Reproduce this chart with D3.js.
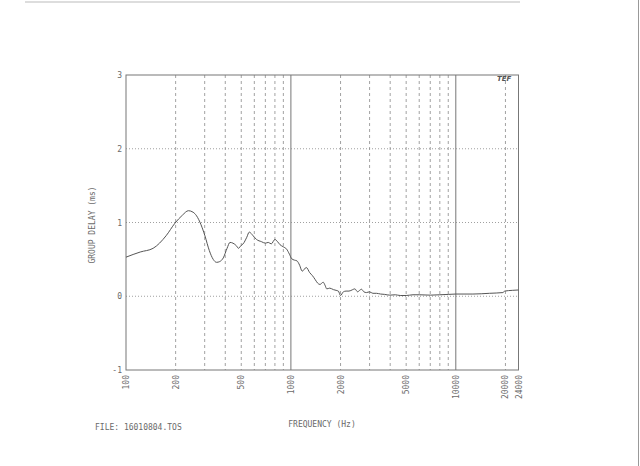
<!DOCTYPE html>
<html><head><meta charset="utf-8">
<script src="https://cdn.jsdelivr.net/npm/d3@7"></script>
<style>html,body{margin:0;padding:0;background:#fff;}svg{display:block;}</style>
</head><body>
<svg id="c" width="640" height="466"></svg>
<script>
const freqs = [100,122,146,175,198,220,239,255,268,285,301,320,338,354,370,389,410,427,445,469,480,500,513,540,559,575,590,619,663,700,729,760,800,830,858,900,941,980,1010,1050,1088,1130,1170,1240,1300,1350,1400,1450,1500,1570,1610,1650,1720,1810,1880,1940,2000,2080,2160,2250,2370,2440,2540,2610,2680,2770,2870,3000,3140,3300,3500,3700,3980,4300,4600,5000,5500,6000,7000,8000,9000,10000,12700,16000,19300,19800,22000,24000];
const delays = [0.53,0.60,0.65,0.82,0.99,1.10,1.16,1.14,1.09,0.97,0.82,0.62,0.50,0.46,0.47,0.52,0.65,0.73,0.72,0.68,0.65,0.69,0.71,0.80,0.87,0.85,0.82,0.77,0.74,0.72,0.73,0.71,0.77,0.74,0.70,0.67,0.64,0.57,0.51,0.49,0.48,0.42,0.34,0.39,0.32,0.28,0.23,0.18,0.16,0.19,0.15,0.10,0.11,0.09,0.08,0.07,0.01,0.06,0.07,0.07,0.09,0.10,0.06,0.08,0.095,0.06,0.05,0.06,0.04,0.04,0.03,0.025,0.015,0.02,0.01,0.01,0.02,0.02,0.015,0.02,0.025,0.03,0.03,0.04,0.05,0.07,0.08,0.085];
const xTickLabels = [100,200,500,1000,2000,5000,10000,20000,24000];
const yTickLabels = [-1,0,1,2,3];
const gridFreqs = [200,300,400,500,600,700,800,900,2000,3000,4000,5000,6000,7000,8000,9000,20000];
const solidFreqs = [1000,10000];

const svg = d3.select('#c');
svg.append('rect').attr('width',640).attr('height',466).attr('fill','#fff');
const L=126,R=518.5,T=75,B=370;
const x = d3.scaleLog().domain([100,24000]).range([L,R]);
const y = d3.scaleLinear().domain([-1,3]).range([B,T]);
const gray='#6a6a6a';
const font='"DejaVu Sans Mono", monospace';

// scan artifacts: page edges
svg.append('line').attr('x1',25).attr('x2',520).attr('y1',2).attr('y2',2).attr('stroke','#bbb').attr('stroke-width',1);
svg.append('line').attr('x1',638.5).attr('x2',638.5).attr('y1',0).attr('y2',466).attr('stroke','#999').attr('stroke-width',1);

// grid verticals
svg.append('g').selectAll('line').data(gridFreqs).join('line')
  .attr('x1',d=>x(d)).attr('x2',d=>x(d)).attr('y1',T).attr('y2',B)
  .attr('stroke','#8a8a8a').attr('stroke-width',0.8).attr('stroke-dasharray','3,3');
svg.append('g').selectAll('line').data(solidFreqs).join('line')
  .attr('x1',d=>x(d)).attr('x2',d=>x(d)).attr('y1',T).attr('y2',B)
  .attr('stroke','#777').attr('stroke-width',1);
// horizontal dotted
svg.append('g').selectAll('line').data([0,1,2]).join('line')
  .attr('x1',L).attr('x2',R).attr('y1',d=>y(d)).attr('y2',d=>y(d))
  .attr('stroke','#888').attr('stroke-width',0.8).attr('stroke-dasharray','1,2');
// frame
svg.append('rect').attr('x',L).attr('y',T).attr('width',R-L).attr('height',B-T)
  .attr('fill','none').attr('stroke','#777').attr('stroke-width',1);

// y tick labels
svg.append('g').selectAll('text').data(yTickLabels).join('text')
  .attr('x',L-4).attr('y',d=>y(d)+3).attr('text-anchor','end')
  .attr('font-family',font).attr('font-size',8).attr('fill',gray).text(d=>d);
// x tick labels rotated
svg.append('g').selectAll('text').data(xTickLabels).join('text')
  .attr('transform',d=>`translate(${x(d)+3},${B+5}) rotate(-90)`)
  .attr('text-anchor','end')
  .attr('font-family',font).attr('font-size',8).attr('fill',gray).text(d=>d);

// titles
svg.append('text').attr('transform','translate(95,225) rotate(-90)').attr('text-anchor','middle')
  .attr('font-family',font).attr('font-size',8).attr('fill',gray).text('GROUP DELAY (ms)');
svg.append('text').attr('x',322).attr('y',427).attr('text-anchor','middle')
  .attr('font-family',font).attr('font-size',8).attr('fill',gray).text('FREQUENCY (Hz)');
svg.append('text').attr('x',95).attr('y',430)
  .attr('font-family',font).attr('font-size',8).attr('fill',gray).text('FILE: 16010804.TOS');
svg.append('text').attr('x',497).attr('y',81)
  .attr('font-family','"DejaVu Sans", sans-serif').attr('font-size',7).attr('font-style','italic').attr('font-weight','bold')
  .attr('fill','#555').text('TEF');

// curve
const pts = freqs.map((f,i)=>[f,delays[i]]);
svg.append('path').datum(pts)
  .attr('d',d3.line().x(d=>x(d[0])).y(d=>y(d[1])).curve(d3.curveMonotoneX))
  .attr('fill','none').attr('stroke','#555').attr('stroke-width',1);
</script>
</body></html>
